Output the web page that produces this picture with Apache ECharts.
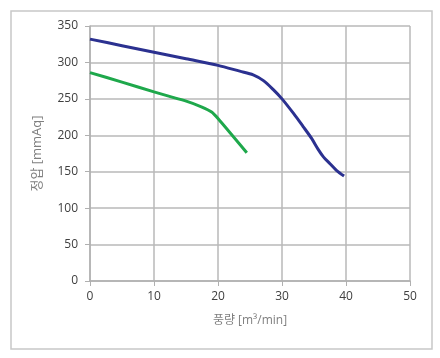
<!DOCTYPE html>
<html><head><meta charset="utf-8">
<script src="https://cdn.jsdelivr.net/npm/echarts@6/dist/echarts.min.js"></script>
<style>html,body{margin:0;padding:0;background:#fff}#c{width:440px;height:358px}</style>
</head><body><div id="c"></div>
<script>
var blueX = [0, 5, 10, 15, 20, 23.4, 25.5, 27.1, 28.6, 30, 31.8, 33.3, 34.6, 35.7, 36.5, 37.5, 38.5, 39.7];
var blueY = [332, 323, 314, 305, 296, 288, 283, 275, 263, 250, 230, 212, 196, 180, 170, 161, 152, 144];
var greenX = [0, 5, 10, 14.8, 17.4, 19, 20, 24.5];
var greenY = [286, 273, 259.5, 247.5, 239, 232, 223, 176];
var xTicks = [0, 10, 20, 30, 40, 50];
var yTicks = [0, 50, 100, 150, 200, 250, 300, 350];
function pairs(xs, ys){ return xs.map(function(x,i){ return [x, ys[i]]; }); }
var chart = echarts.init(document.getElementById('c'));
var font = 'Open Sans, Noto Sans CJK KR, sans-serif';
chart.setOption({
  animation: false,
  graphic: [{type:'rect', shape:{x:11,y:11,width:421,height:338}, style:{fill:'none', stroke:'#c8c8c8', lineWidth:1.5}, silent:true}],
  grid: {left: 90, right: 30, top: 26, bottom: 77},
  xAxis: {
    type: 'value', min: xTicks[0], max: xTicks[xTicks.length-1], interval: 10,
    name: '풍량 [m³/min]', nameLocation: 'middle', nameGap: 34,
    nameTextStyle: {color:'#7f7f7f', fontSize: 12, fontFamily: font},
    axisLine: {show:true, lineStyle:{color:'#b0b0b0', width:1.5}},
    axisTick: {show:true, length:5, lineStyle:{color:'#b0b0b0'}},
    axisLabel: {color:'#404040', fontSize: 12, fontFamily: font, margin: 10},
    splitLine: {show:true, lineStyle:{color:'#b8b8b8', width:1.5}}
  },
  yAxis: {
    type: 'value', min: yTicks[0], max: yTicks[yTicks.length-1], interval: 50,
    name: '정압 [mmAq]', nameLocation: 'middle', nameGap: 46,
    nameTextStyle: {color:'#7f7f7f', fontSize: 13, fontFamily: font},
    axisLine: {show:true, lineStyle:{color:'#b0b0b0', width:1.5}},
    axisTick: {show:true, length:5, lineStyle:{color:'#b0b0b0'}},
    axisLabel: {color:'#404040', fontSize: 12, fontFamily: font, margin: 12},
    splitLine: {show:true, lineStyle:{color:'#b8b8b8', width:1.5}}
  },
  series: [
    {type:'line', data: pairs(blueX, blueY), smooth: 0.3, showSymbol:false, lineStyle:{color:'#2b3190', width:3}},
    {type:'line', data: pairs(greenX, greenY), smooth: 0.2, showSymbol:false, lineStyle:{color:'#1ea84b', width:3}}
  ]
});
</script></body></html>
